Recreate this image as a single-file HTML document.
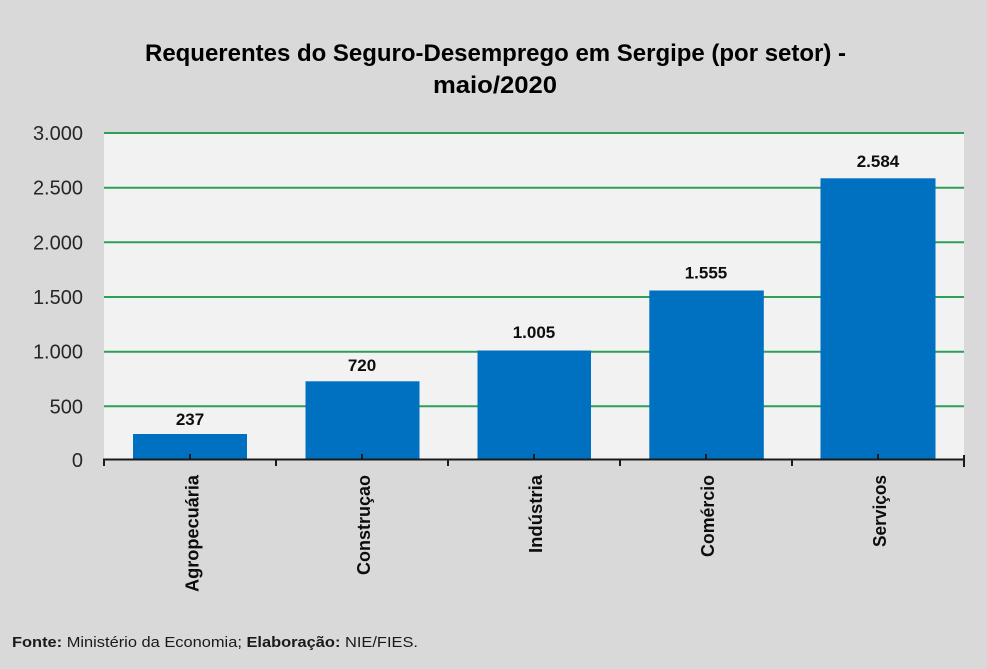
<!DOCTYPE html>
<html>
<head>
<meta charset="utf-8">
<style>
  html, body { margin: 0; padding: 0; background: #d9d9d9; }
  svg { display: block; }
</style>
</head>
<body>
<svg width="987" height="669" viewBox="0 0 987 669" xmlns="http://www.w3.org/2000/svg" font-family="'Liberation Sans', Arial, sans-serif">
  <rect x="0" y="0" width="987" height="669" fill="#d9d9d9"/>
  <!-- plot area -->
  <rect x="104" y="132" width="860" height="328" fill="#f2f2f2"/>

  <!-- title -->
  <text x="495.5" y="61" font-size="24" font-weight="bold" fill="#000" text-anchor="middle" textLength="701" lengthAdjust="spacingAndGlyphs">Requerentes do Seguro-Desemprego em Sergipe (por setor) -</text>
  <text x="495" y="93" font-size="24" font-weight="bold" fill="#000" text-anchor="middle" textLength="124" lengthAdjust="spacingAndGlyphs">maio/2020</text>

  <!-- gridlines -->
  <g stroke="#2e9e58" stroke-width="2">
    <line x1="104" y1="133" x2="964" y2="133"/>
    <line x1="104" y1="187.7" x2="964" y2="187.7"/>
    <line x1="104" y1="242.3" x2="964" y2="242.3"/>
    <line x1="104" y1="297" x2="964" y2="297"/>
    <line x1="104" y1="351.7" x2="964" y2="351.7"/>
    <line x1="104" y1="406.3" x2="964" y2="406.3"/>
  </g>

  <!-- y labels -->
  <g font-size="20" fill="#262626" text-anchor="end">
    <text x="83" y="140">3.000</text>
    <text x="83" y="194.7">2.500</text>
    <text x="83" y="249.3">2.000</text>
    <text x="83" y="304">1.500</text>
    <text x="83" y="358.7">1.000</text>
    <text x="83" y="413.3">500</text>
    <text x="83" y="467">0</text>
  </g>

  <!-- bars -->
  <g fill="#0070c0">
    <rect x="133" y="434" width="114" height="26"/>
    <rect x="305.5" y="381.3" width="114" height="78.7"/>
    <rect x="477.5" y="350.5" width="113.5" height="109.5"/>
    <rect x="649.3" y="290.5" width="114.5" height="169.5"/>
    <rect x="820.5" y="178.3" width="115" height="281.7"/>
  </g>

  <!-- data labels -->
  <g font-size="17" font-weight="bold" fill="#0d0d0d" text-anchor="middle">
    <text x="190" y="425">237</text>
    <text x="362" y="371">720</text>
    <text x="534" y="338">1.005</text>
    <text x="706" y="278.5">1.555</text>
    <text x="878" y="167">2.584</text>
  </g>

  <!-- axis -->
  <line x1="103" y1="459.5" x2="965" y2="459.5" stroke="#1a1a1a" stroke-width="2"/>
  <g stroke="#1a1a1a" stroke-width="2">
    <line x1="104" y1="459" x2="104" y2="466"/>
    <line x1="276" y1="459" x2="276" y2="466"/>
    <line x1="448" y1="459" x2="448" y2="466"/>
    <line x1="620" y1="459" x2="620" y2="466"/>
    <line x1="792" y1="459" x2="792" y2="466"/>
    <line x1="964" y1="455" x2="964" y2="467"/>
    <line x1="190" y1="454" x2="190" y2="459"/>
    <line x1="362" y1="454" x2="362" y2="459"/>
    <line x1="534" y1="454" x2="534" y2="459"/>
    <line x1="706" y1="454" x2="706" y2="459"/>
    <line x1="878" y1="454" x2="878" y2="459"/>
  </g>

  <!-- category labels -->
  <g font-size="18.5" font-weight="bold" fill="#0d0d0d" text-anchor="end">
    <text transform="translate(198.5,475) rotate(-90)" textLength="117" lengthAdjust="spacingAndGlyphs">Agropecuária</text>
    <text transform="translate(370,475) rotate(-90)" textLength="100" lengthAdjust="spacingAndGlyphs">Construçao</text>
    <text transform="translate(542,475) rotate(-90)" textLength="78" lengthAdjust="spacingAndGlyphs">Indústria</text>
    <text transform="translate(714,475) rotate(-90)" textLength="82" lengthAdjust="spacingAndGlyphs">Comércio</text>
    <text transform="translate(886,475) rotate(-90)" textLength="72" lengthAdjust="spacingAndGlyphs">Serviços</text>
  </g>

  <!-- footer -->
  <text x="12" y="647" font-size="15" fill="#1a1a1a" textLength="406" lengthAdjust="spacingAndGlyphs"><tspan font-weight="bold">Fonte:</tspan> Ministério da Economia; <tspan font-weight="bold">Elaboração:</tspan> NIE/FIES.</text>
</svg>
</body>
</html>
